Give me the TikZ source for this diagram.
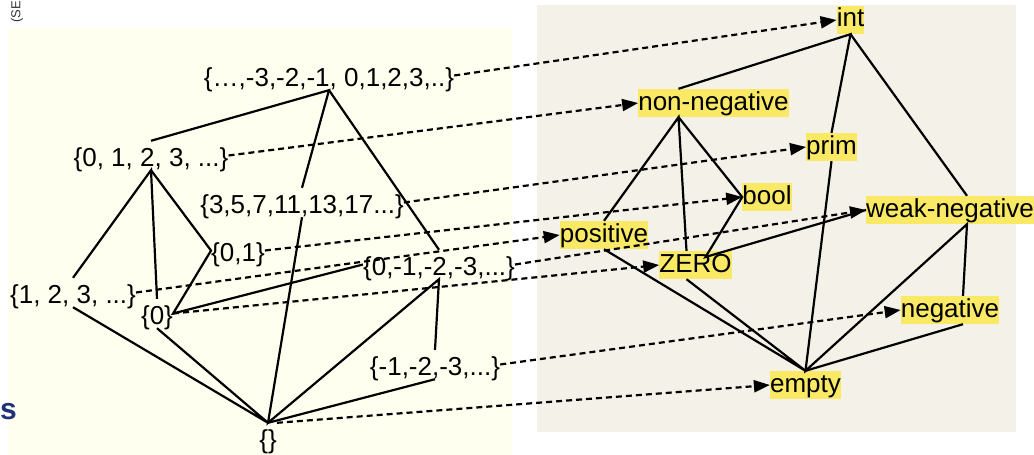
\documentclass[tikz,border=0pt]{standalone}
\usepackage{fontspec}
\setmainfont{Liberation Sans}
\definecolor{setbg}{RGB}{255,255,240}
\definecolor{typebg}{RGB}{244,242,232}
\definecolor{hiyellow}{RGB}{250,233,100}
\definecolor{logoblue}{RGB}{30,50,120}
\usetikzlibrary{arrows.meta,positioning}

\begin{document}
\begin{tikzpicture}[x=1pt, y=-1pt,
    setlabel/.style={anchor=base, inner xsep=0pt, inner ysep=4pt, text height=21pt, text depth=0pt, font=\fontsize{26}{30}\selectfont},
    typebox/.style={anchor=base, fill=hiyellow, inner xsep=0pt, inner ysep=2pt, text height=19pt, text depth=5pt, font=\fontsize{26}{30}\selectfont},
    link/.style={line width=2.2pt},
    map/.style={line width=2.2pt, dash pattern=on 6pt off 4pt, -{Triangle[length=16pt,width=12pt]}}]
    \useasboundingbox (0,0) rectangle (1034,455);
    \fill[setbg] (8,28) rectangle (512,455);
    \fill[typebg] (537,5) rectangle (1016,432);
    \node[font=\fontsize{13}{14}\selectfont, text=gray!40!black, rotate=90, inner sep=0pt] (se) at (17,12) {(SE};
    \node[font=\bfseries\fontsize{30}{30}\selectfont, text=logoblue, inner sep=0pt, anchor=west] (logo) at (0,412) {s};

    % sets of numbers
    \node[setlabel] (all) at (329,86) {\{…,-3,-2,-1, 0,1,2,3,..\}};
    \node[setlabel] (nat) at (151,166) {\{0, 1, 2, 3, ...\}};
    \node[setlabel] (primes) at (302,213) {\{3,5,7,11,13,17...\}};
    \node[setlabel] (bits) at (238,261) {\{0,1\}};
    \node[setlabel] (pos) at (73,303) {\{1, 2, 3, ...\}};
    \node[setlabel] (zero) at (157,324) {\{0\}};
    \node[setlabel] (nonpos) at (439,275) {\{0,-1,-2,-3,...\}};
    \node[setlabel] (neg) at (435,375) {\{-1,-2,-3,...\}};
    \node[setlabel] (none) at (268,448) {\{\}};

    % types
    \node[typebox] (int) at (850.5,27) {int};
    \node[typebox] (nonneg) at (713.5,110) {non-negative\ };
    \node[typebox] (prim) at (831.5,154) {prim};
    \node[typebox] (bool) at (767,204) {bool};
    \node[typebox] (weakneg) at (950,217) {weak-negative};
    \node[typebox] (positive) at (604,242) {positive};
    \node[typebox] (ZERO) at (695.5,272) {ZERO};
    \node[typebox] (negative) at (950,317) {negative};
    \node[typebox] (empty) at (805.5,392) {empty};

    % order on the sets
    \draw[link] (nat.north) -- (all.south) -- (primes.north);
    \draw[link] (all.south) -- (nonpos.north);
    \draw[link] (pos.north) -- (nat.south) -- (zero.north);
    \draw[link] (nat.south) -- (bits.west) -- (zero.east) -- (nonpos.west);
    \draw[link] (pos.south) -- (none.north) -- (zero.south);
    \draw[link] (primes.south) -- (none.north) -- (nonpos.south) -- (neg.north);
    \draw[link] (neg.south) -- (none.north);

    % order on the types
    \draw[link] ([xshift=-35pt]nonneg.north) -- (int.south) -- (prim.north);
    \draw[link] (int.south) -- ([xshift=17pt]weakneg.north);
    \draw[link] (positive.north) -- ([xshift=-35pt]nonneg.south) -- ([xshift=-9pt]ZERO.north);
    \draw[link] ([xshift=-35pt]nonneg.south) -- (bool.west) -- ([xshift=10pt,yshift=8pt]ZERO.center) -- (weakneg.west);
    \draw[link] (positive.south) -- (empty.north) -- ([xshift=-9pt]ZERO.south);
    \draw[link] (prim.south) -- (empty.north) -- ([xshift=17pt]weakneg.south) -- ([xshift=13pt]negative.north);
    \draw[link] ([xshift=13pt]negative.south) -- (empty.north);

    % sets to types
    \draw[map] (all.east) -- (int.west);
    \draw[map] (nat.east) -- (nonneg.west);
    \draw[map] (primes.east) -- (prim.west);
    \draw[map] (bits.east) -- (bool.west);
    \draw[map] (pos.east) -- (positive.west);
    \draw[map] (nonpos.east) -- (weakneg.west);
    \draw[map] (zero.east) -- (ZERO.west);
    \draw[map] (neg.east) -- (negative.west);
    \draw[map] (none.north east) -- (empty.west);
\end{tikzpicture}
\end{document}
